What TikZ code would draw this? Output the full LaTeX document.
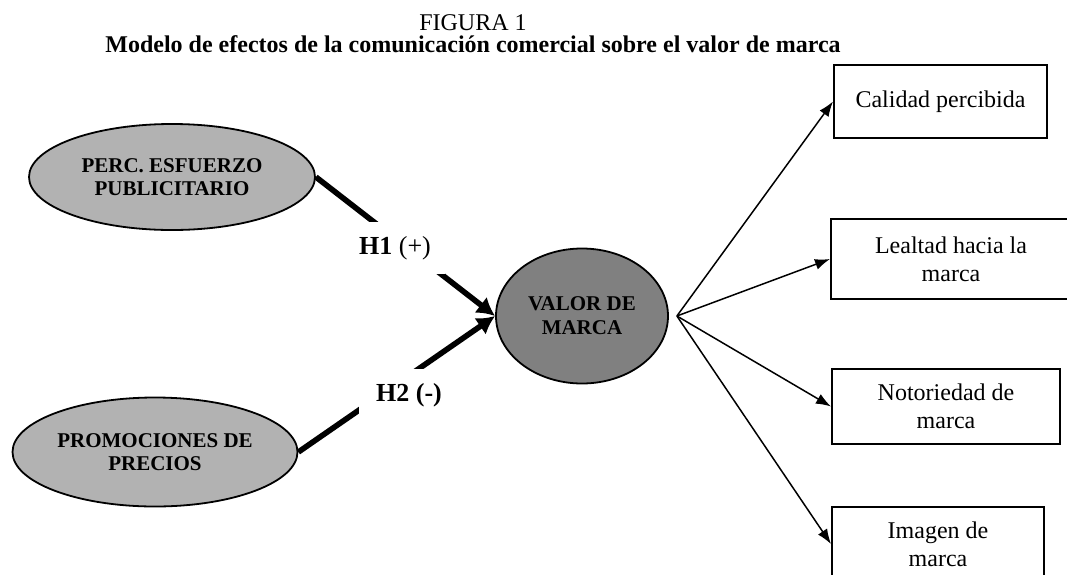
\documentclass[tikz,border=0pt]{standalone}
\usepackage{fontspec}
\setmainfont{Liberation Serif}
\usepackage{tikz}
\usetikzlibrary{arrows.meta}
\usetikzlibrary{shapes,backgrounds}

\begin{document}
\begin{tikzpicture}[x=0.5pt,y=-0.5pt,>={Latex[length=7.5pt,width=5.5pt]},
                    factor node/.style={ellipse,draw,line width=0.9pt,fill=black!30,inner sep=0pt,
                                        align=center,font=\fontsize{10.5}{11.5}\selectfont\bfseries},
                    dim node/.style={rectangle,draw,line width=1pt,inner sep=0pt,align=center,
                                     font=\fontsize{12}{13.8}\selectfont},
                    hyp label/.style={fill=white,inner sep=0pt,minimum width=50pt,minimum height=26pt,
                                      font=\fontsize{13}{15}\selectfont},
                    thick link/.style={line width=2.8pt,-{Latex[length=9pt,width=10pt]}}]

  \useasboundingbox (0,0) rectangle (1067,574);

  % titulo
  \node[font=\fontsize{12}{14}\selectfont] (fig) at (473,23) {FIGURA 1};
  \node[font=\fontsize{12}{14}\selectfont\bfseries] (title) at (473,44)
    {Modelo de efectos de la comunicación comercial sobre el valor de marca};

  % antecedentes y valor de marca
  \node[factor node,minimum width=143pt,minimum height=53pt] (perc) at (172,177) {PERC. ESFUERZO\\PUBLICITARIO};
  \node[factor node,minimum width=142.5pt,minimum height=54.5pt] (promo) at (155,452) {PROMOCIONES DE\\PRECIOS};
  \node[factor node,fill=black!50,minimum width=86pt,minimum height=67.5pt,
        font=\fontsize{10.5}{12}\selectfont\bfseries] (valor) at (582,316) {VALOR DE\\MARCA};

  % dimensiones
  \node[dim node,minimum width=106.5pt,minimum height=36.5pt] (b1) at (940.5,101.5) {Calidad percibida};
  \node[dim node,minimum width=120pt,minimum height=40pt] (b2) at (951,259) {Lealtad hacia la\\marca};
  \node[dim node,minimum width=114pt,minimum height=37.5pt] (b3) at (946,406.5) {Notoriedad de\\marca};
  \node[dim node,minimum width=106pt,minimum height=37pt] (b4) at (938,544) {Imagen de\\marca};

  \coordinate (hub) at ([xshift=4pt]valor.east);

  \path[thick link]
    (perc.east)  edge (valor.west)
    (promo.east) edge (valor.west);

  \node[hyp label] (h1) at (395,248) {\textbf{H1} (+)};
  \node[hyp label] (h2) at (409,395) {\textbf{H2 (-)}};

  \path[->,line width=0.75pt]
    (hub) edge (b1.west)
          edge (b2.west)
          edge (b3.west)
          edge (b4.west);
\end{tikzpicture}
\end{document}
